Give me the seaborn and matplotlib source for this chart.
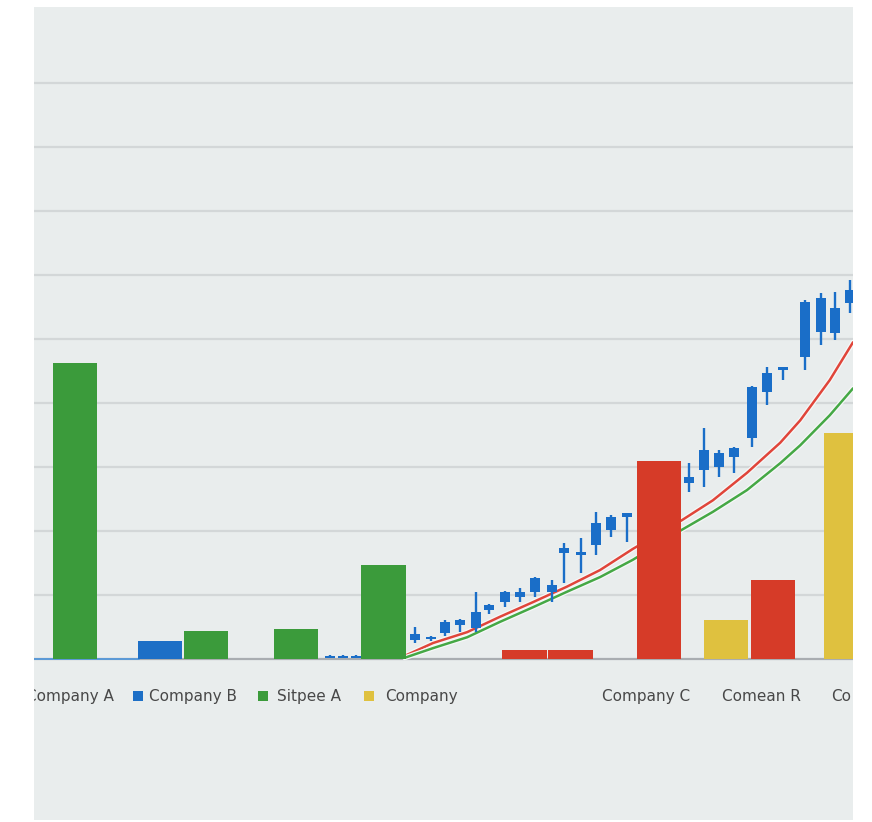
import matplotlib
matplotlib.use("Agg")
import matplotlib.pyplot as plt
import matplotlib.patheffects as pe
import numpy as np
import pandas as pd
import seaborn as sns

# ---------------- data ----------------
bar_x = [0.90, 2.77, 3.78, 5.76, 7.68, 10.78, 11.79, 13.74, 15.21, 16.24, 17.85]
bar_values = [4.62, 0.28, 0.44, 0.47, 1.47, 0.14, 0.14, 3.09, 0.61, 1.23, 3.53]
bar_series = ["green", "blue", "green", "green", "green", "red", "red", "red",
              "yellow", "red", "yellow"]

candle_x = [6.50, 6.79, 7.08,
            8.37, 8.73, 9.03, 9.36, 9.71, 10.00, 10.35, 10.68, 11.01, 11.38,
            11.65, 12.02, 12.35, 12.68, 13.03,
            14.40, 14.73, 15.05, 15.38, 15.78, 16.11, 16.46, 16.95, 17.30,
            17.60, 17.93]
body_low = [0.02, 0.02, 0.02,
            0.30, 0.31, 0.41, 0.53, 0.48, 0.77, 0.89, 0.97, 1.05, 1.05,
            1.66, 1.63, 1.78, 2.02, 2.22,
            2.75, 2.95, 3.00, 3.16, 3.45, 4.17, 4.52, 4.72, 5.11, 5.09, 5.56]
body_high = [0.05, 0.05, 0.05,
             0.39, 0.34, 0.58, 0.61, 0.73, 0.84, 1.05, 1.05, 1.27, 1.16,
             1.73, 1.67, 2.13, 2.22, 2.28,
             2.84, 3.27, 3.22, 3.30, 4.25, 4.47, 4.56, 5.58, 5.64, 5.48, 5.77]
wick_low = [0.01, 0.01, 0.01,
            0.25, 0.28, 0.36, 0.42, 0.42, 0.70, 0.81, 0.89, 0.97, 0.89,
            1.19, 1.34, 1.63, 1.91, 1.83,
            2.61, 2.69, 2.84, 2.91, 3.31, 3.97, 4.36, 4.52, 4.91, 4.98, 5.41]
wick_high = [0.07, 0.06, 0.06,
             0.50, 0.36, 0.61, 0.63, 1.05, 0.86, 1.06, 1.11, 1.28, 1.23,
             1.81, 1.89, 2.30, 2.25, 2.28,
             3.06, 3.61, 3.27, 3.31, 4.27, 4.56, 4.56, 5.61, 5.72, 5.73, 5.92]

curve_x = [8.15, 8.77, 9.52, 10.24, 10.97, 11.71, 12.44, 13.16, 14.24, 14.92,
           15.67, 16.40, 16.84, 17.49, 18.00]
red_curve = [0.05, 0.25, 0.42, 0.66, 0.89, 1.13, 1.39, 1.72, 2.17, 2.48,
             2.91, 3.38, 3.73, 4.36, 4.95]
green_curve = [0.02, 0.17, 0.34, 0.58, 0.81, 1.05, 1.28, 1.55, 2.02, 2.30,
               2.64, 3.06, 3.34, 3.81, 4.23]

blue_base_x = [0.0, 2.3]
blue_base_y = [0.0, 0.0]

legend_labels = ["Company A", "Company B", "Sitpee A", "Company"]
legend_colors = [None, "blue", "green", "yellow"]
legend_text_x = [-0.18, 2.53, 5.34, 7.71]
legend_square_x = [None, 2.28, 5.03, 7.36]

cat_labels = ["Company C", "Comean R", "Co"]
cat_label_x = [12.48, 15.12, 17.52]

grid_levels = [1, 2, 3, 4, 5, 6, 7, 8, 9]

palette = {"green": "#3b9b3b", "blue": "#1d6fc6", "red": "#d63b28",
           "yellow": "#dfc13f"}
candle_color = "#1a6ec8"

# ---------------- figure ----------------
sns.set_theme(style="white")
plt.rcParams["font.family"] = ["DejaVu Sans"]

fig = plt.figure(figsize=(8.72, 8.22), dpi=100)
fig.patch.set_facecolor("white")
ax = fig.add_axes([34 / 872, 2 / 822, 819 / 872, 813 / 822])
ax.set_facecolor("#e9eded")
ax.set_xlim(0, 18.0)
ax.set_ylim(-2.516, 10.19)

for lv in grid_levels:
    ax.axhline(lv, color="#d3d7d8", lw=1.6, zorder=0.5)
ax.axhline(0, color="#a9adb1", lw=1.6, zorder=1)

# curves (behind bars)
curves = pd.DataFrame({
    "x": curve_x * 2,
    "y": red_curve + green_curve,
    "s": ["red"] * len(curve_x) + ["green"] * len(curve_x),
})
sns.lineplot(data=curves, x="x", y="y", hue="s",
             palette={"red": "#e0453a", "green": "#45a845"},
             lw=1.8, legend=False, ax=ax, zorder=2,
             path_effects=[pe.Stroke(linewidth=3.6, foreground="#f6f8f8"),
                           pe.Normal()])
sns.lineplot(x=blue_base_x, y=blue_base_y, color="#5a9ad8", lw=1.4, ax=ax,
             zorder=1.5)

# bars
ax.bar(bar_x, bar_values, width=0.97, color=[palette[s] for s in bar_series],
       zorder=3, linewidth=0)

# candles
ax.vlines(candle_x, wick_low, wick_high, color=candle_color, lw=1.7, zorder=4)
ax.bar(candle_x, np.array(body_high) - np.array(body_low), bottom=body_low,
       width=0.21, color=candle_color, zorder=4.5, linewidth=0)

# legend-like row
text_y = -0.58
for lab, c, tx, sx in zip(legend_labels, legend_colors, legend_text_x,
                          legend_square_x):
    ax.text(tx, text_y, lab, fontsize=11, color="#484848", va="center",
            ha="left", clip_on=True)
    if c is not None:
        ax.scatter([sx], [text_y], marker="s", s=60, color=palette[c],
                   zorder=5, clip_on=True, linewidths=0)

for lab, tx in zip(cat_labels, cat_label_x):
    ax.text(tx, text_y, lab, fontsize=11, color="#484848", va="center",
            ha="left", clip_on=True)

ax.set_xticks([])
ax.set_yticks([])
ax.set_xlabel("")
ax.set_ylabel("")
for sp in ax.spines.values():
    sp.set_visible(False)

fig.savefig("out.png", dpi=100, facecolor="white")
